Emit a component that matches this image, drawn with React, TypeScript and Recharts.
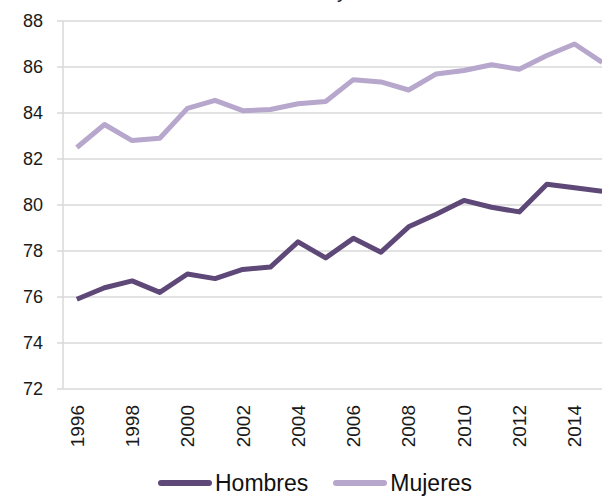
import * as React from 'react'
import { LineChart, Line, XAxis, YAxis, CartesianGrid, Legend } from 'recharts'

const years = [
  '1996', '1997', '1998', '1999', '2000', '2001', '2002', '2003', '2004', '2005',
  '2006', '2007', '2008', '2009', '2010', '2011', '2012', '2013', '2014', '2015',
]
const hombres = [75.9, 76.4, 76.7, 76.2, 77.0, 76.8, 77.2, 77.3, 78.4, 77.7, 78.55, 77.95, 79.05, 79.6, 80.2, 79.9, 79.7, 80.9, 80.75, 80.6]
const mujeres = [82.5, 83.5, 82.8, 82.9, 84.2, 84.55, 84.1, 84.15, 84.4, 84.5, 85.45, 85.35, 85.0, 85.7, 85.85, 86.1, 85.9, 86.5, 87.0, 86.2]
const yTicks = [72, 74, 76, 78, 80, 82, 84, 86, 88]
const boundaryTicks = years.map((_, i) => i).concat(years.length)

const data = years.map((year, i) => ({ year, hombres: hombres[i], mujeres: mujeres[i] }))

const FONT = '"Liberation Sans", Arial, sans-serif'
const GRID = '#d9d9d9'
const DARK = '#5e4878'
const LIGHT = '#b7a7cc'

function YearTick({ x, y, payload }: { x?: number; y?: number; payload?: { value: string } }) {
  return (
    <g transform={`translate(${x},${(y ?? 0) + 16})`}>
      <text
        x={0}
        y={0}
        dy="0.36em"
        transform="rotate(-90)"
        textAnchor="end"
        fill="#1a1a1a"
        fontSize={19}
        fontFamily={FONT}
      >
        {payload?.value}
      </text>
    </g>
  )
}

function ChartLegend() {
  const items = [
    { name: 'Hombres', color: DARK },
    { name: 'Mujeres', color: LIGHT },
  ]
  return (
    <div style={{ display: 'flex', alignItems: 'center', fontFamily: FONT, fontSize: 23, lineHeight: '20px', color: '#111' }}>
      {items.map((it) => (
        <span key={it.name} style={{ display: 'flex', alignItems: 'center', marginRight: 25 }}>
          <span style={{ display: 'inline-block', width: 54, height: 6, borderRadius: 3, background: it.color, marginRight: 3 }} />
          <span>{it.name}</span>
        </span>
      ))}
    </div>
  )
}

export default function App() {
  return (
    <div style={{ position: 'absolute', left: 0, top: 0, width: 602, height: 498, overflow: 'hidden', background: '#fff' }}>
      {/* tail of the cut-off title */}
      <span style={{ position: 'absolute', left: 337, top: -19, fontFamily: FONT, fontSize: 20, lineHeight: '20px', color: '#222' }}>y</span>
      <LineChart width={620} height={498} data={data} margin={{ top: 21, right: 4, left: 0, bottom: 0 }}>
        <CartesianGrid vertical={false} stroke={GRID} strokeWidth={1.5} />
        <XAxis
          xAxisId="marks"
          type="number"
          domain={[0, years.length]}
          ticks={boundaryTicks}
          tick={false}
          tickSize={6}
          height={0}
          axisLine={{ stroke: GRID, strokeWidth: 1.5 }}
          tickLine={{ stroke: GRID, strokeWidth: 1.5 }}
        />
        <XAxis
          dataKey="year"
          scale="band"
          interval={1}
          height={109}
          tickSize={0}
          tickMargin={0}
          axisLine={false}
          tickLine={false}
          tick={<YearTick />}
        />
        <YAxis
          domain={[72, 88]}
          ticks={yTicks}
          width={63}
          tickSize={6}
          tickMargin={14}
          axisLine={{ stroke: GRID, strokeWidth: 1.5 }}
          tickLine={{ stroke: GRID, strokeWidth: 1.5 }}
          tick={{ fill: '#1a1a1a', fontSize: 18, fontFamily: FONT }}
        />
        <Legend
          layout="horizontal"
          verticalAlign="middle"
          align="center"
          content={<ChartLegend />}
          wrapperStyle={{ left: 158, top: 473, width: 360, height: 20 }}
        />
        <Line
          type="linear"
          dataKey="hombres"
          name="Hombres"
          stroke={DARK}
          strokeWidth={5}
          strokeLinejoin="round"
          dot={false}
          activeDot={false}
          isAnimationActive={false}
        />
        <Line
          type="linear"
          dataKey="mujeres"
          name="Mujeres"
          stroke={LIGHT}
          strokeWidth={5}
          strokeLinejoin="round"
          dot={false}
          activeDot={false}
          isAnimationActive={false}
        />
      </LineChart>
    </div>
  )
}
